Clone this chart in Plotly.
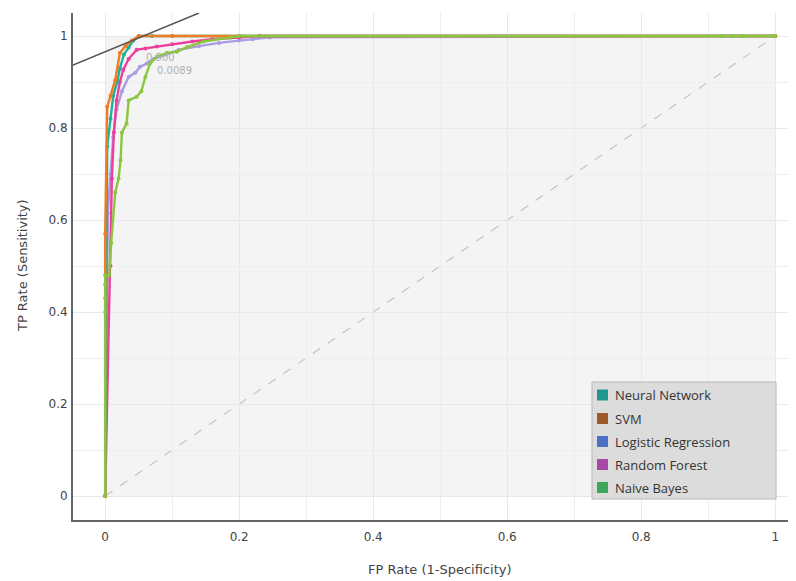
import plotly.graph_objects as go

# ROC data (FPR, TPR)
nn_fpr = [0.0, 0.003, 0.008, 0.012, 0.018, 0.022, 0.028, 0.035, 0.042, 0.05, 0.07, 0.1, 0.2, 0.92, 0.935, 0.95, 1.0]
nn_tpr = [0.0, 0.76, 0.82, 0.87, 0.9, 0.93, 0.96, 0.975, 0.99, 1.0, 1.0, 1.0, 1.0, 1.0, 1.0, 1.0, 1.0]

svm_fpr = [0.0, 0.0, 0.003, 0.008, 0.015, 0.022, 0.03, 0.04, 0.05, 0.1, 0.2, 1.0]
svm_tpr = [0.0, 0.57, 0.846, 0.87, 0.904, 0.963, 0.978, 0.99, 1.0, 1.0, 1.0, 1.0]

lr_fpr = [0.0, 0.004, 0.008, 0.012, 0.017, 0.025, 0.035, 0.045, 0.052, 0.062, 0.072, 0.09, 0.11, 0.14, 0.17, 0.2, 0.22, 0.246, 1.0]
lr_tpr = [0.0, 0.615, 0.7, 0.78, 0.84, 0.88, 0.911, 0.92, 0.933, 0.94, 0.95, 0.96, 0.97, 0.978, 0.985, 0.99, 0.993, 0.997, 1.0]

rf_fpr = [0.0, 0.008, 0.01, 0.013, 0.017, 0.022, 0.027, 0.035, 0.047, 0.06, 0.077, 0.1, 0.13, 0.16, 0.2, 0.23, 1.0]
rf_tpr = [0.0, 0.5, 0.69, 0.79, 0.86, 0.9, 0.926, 0.95, 0.97, 0.973, 0.977, 0.982, 0.988, 0.993, 0.997, 1.0, 1.0]

nb_fpr = [0.0, 0.0, 0.0, 0.0, 0.0, 0.006, 0.009, 0.015, 0.02, 0.023, 0.025, 0.032, 0.035, 0.047, 0.054, 0.06, 0.067, 0.077,
          0.092, 0.107, 0.122, 0.147, 0.186, 0.2, 0.92, 0.935, 0.95, 1.0]
nb_tpr = [0.0, 0.4, 0.43, 0.46, 0.48, 0.48, 0.55, 0.66, 0.69, 0.73, 0.79, 0.81, 0.86, 0.868, 0.88, 0.911, 0.94, 0.955,
          0.963, 0.966, 0.976, 0.988, 0.996, 1.0, 1.0, 1.0, 1.0, 1.0]

series_names = ["Neural Network", "SVM", "Logistic Regression", "Random Forest", "Naive Bayes"]
curve_colors = ["#1fb09e", "#f27c22", "#ab9de3", "#ee3f9c", "#8cc63f"]
legend_colors = ["#1f968e", "#9c5a2c", "#4a70c6", "#a548a6", "#3ea55a"]

x_ticks = [0, 0.2, 0.4, 0.6, 0.8, 1]
x_tick_labels = ["0", "0.2", "0.4", "0.6", "0.8", "1"]
y_ticks = [0, 0.2, 0.4, 0.6, 0.8, 1]
y_tick_labels = ["0", "0.2", "0.4", "0.6", "0.8", "1"]

threshold_labels = ["0.500", "0.0089"]
threshold_x = [0.083, 0.104]
threshold_y = [0.954, 0.926]

x_title = "FP Rate (1-Specificity)"
y_title = "TP Rate (Sensitivity)"

# page body has an 8px margin, so the figure is drawn 8px in from top-left
W, H = 788, 573
ML, MR, MT, MB = 65, 0, 5, 61
PW, PH = W - ML - MR, H - MT - MB


def px2paper_x(px):
    return (px - 8 - ML) / PW


def px2paper_y(py):
    return (H - MB + 8 - py) / PH


fig = go.Figure()

all_fpr = [nn_fpr, svm_fpr, lr_fpr, rf_fpr, nb_fpr]
all_tpr = [nn_tpr, svm_tpr, lr_tpr, rf_tpr, nb_tpr]

order = [2, 3, 0, 1, 4]
for i in order:
    fig.add_trace(go.Scatter(
        x=all_fpr[i], y=all_tpr[i], mode="lines+markers", name=series_names[i],
        line=dict(color=curve_colors[i], width=2.4),
        marker=dict(color=curve_colors[i], size=4),
        showlegend=False, hoverinfo="skip"))

for t, xx, yy in zip(threshold_labels, threshold_x, threshold_y):
    fig.add_annotation(x=xx, y=yy, text=t, showarrow=False,
                       font=dict(size=10, color="#b0b0b0", family="DejaVu Sans"))

fig.add_annotation(x=0.5, y=px2paper_y(569), xref="x", yref="paper", yanchor="middle",
                   text=x_title, showarrow=False,
                   font=dict(family="DejaVu Sans", size=13, color="#444444"))
fig.add_annotation(x=px2paper_x(22), y=0.5, xref="paper", yref="y", xanchor="center",
                   text=y_title, textangle=-90, showarrow=False,
                   font=dict(family="DejaVu Sans", size=13, color="#444444"))

fig.add_shape(type="rect", x0=0, y0=0, x1=1, y1=1, fillcolor="#f4f4f5",
              line=dict(width=0), layer="below")
fig.add_shape(type="line", x0=0, y0=0, x1=1, y1=1,
              line=dict(color="#c4c4c4", width=1.2, dash="dash"), layer="below")
fig.add_shape(type="line", x0=-0.048, y0=0.937, x1=0.14, y1=1.05,
              line=dict(color="#555555", width=1.5))

# legend box (drawn manually to match the reference's layout)
lx0, lx1, ly0, ly1 = 592, 776, 382, 499
fig.add_shape(type="rect", xref="paper", yref="paper",
              x0=px2paper_x(lx0), x1=px2paper_x(lx1), y0=px2paper_y(ly1), y1=px2paper_y(ly0),
              fillcolor="#dcdcdc", line=dict(color="#b8b8b8", width=1))
row_y = [395, 418.5, 441.5, 464.5, 487.5]
for name, col, ry in zip(series_names, legend_colors, row_y):
    fig.add_shape(type="rect", xref="paper", yref="paper",
                  x0=px2paper_x(597), x1=px2paper_x(608),
                  y0=px2paper_y(ry + 5.5), y1=px2paper_y(ry - 5.5),
                  fillcolor=col, line=dict(width=0))
    fig.add_annotation(x=px2paper_x(613), y=px2paper_y(ry), xref="paper", yref="paper",
                       xanchor="left", yanchor="middle", text=name, showarrow=False,
                       font=dict(family="Open Sans", size=13, color="#333333"))

axis_font = dict(family="DejaVu Sans", size=12, color="#444444")

fig.update_layout(
    width=W, height=H,
    margin=dict(l=ML, r=MR, t=MT, b=MB),
    paper_bgcolor="white", plot_bgcolor="white",
    showlegend=False,
    font=dict(family="DejaVu Sans", size=12, color="#444444"),
    xaxis=dict(range=[-0.048, 1.031], tickvals=x_ticks, ticktext=x_tick_labels,
               automargin=False,
               showgrid=True, gridcolor="#e6e8ec", gridwidth=1,
               minor=dict(dtick=0.1, tick0=0, showgrid=True, gridcolor="#eceef1"),
               zeroline=False, showline=True, linecolor="#666666", linewidth=2,
               ticks="", tickfont=axis_font, ticklabelstandoff=5),
    yaxis=dict(range=[-0.052, 1.05], tickvals=y_ticks, ticktext=y_tick_labels,
               automargin=False,
               showgrid=True, gridcolor="#e6e8ec", gridwidth=1,
               minor=dict(dtick=0.1, tick0=0, showgrid=True, gridcolor="#eceef1"),
               zeroline=False, showline=True, linecolor="#666666", linewidth=2,
               ticks="", tickfont=axis_font, ticklabelstandoff=1),
)

fig.write_html("out.html")
